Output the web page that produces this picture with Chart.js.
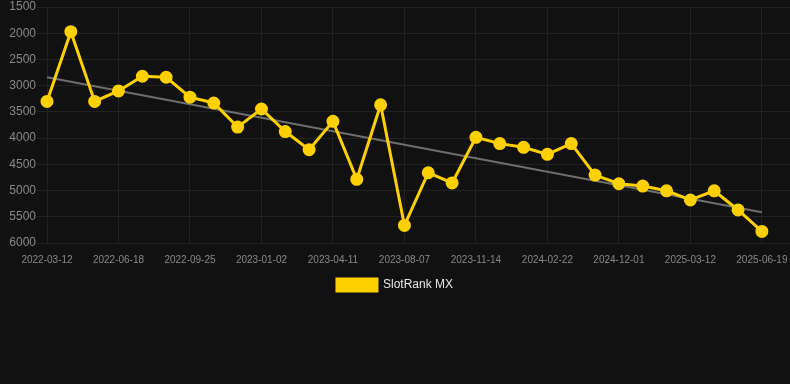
<!DOCTYPE html>
<html>
<head>
<meta charset="utf-8">
<script src="https://cdn.jsdelivr.net/npm/chart.js@4/dist/chart.umd.min.js"></script>
<style>
html,body{margin:0;padding:0;background:#111111;}
#wrap{width:790px;height:301px;position:relative;}
</style>
</head>
<body>
<div id="wrap"><canvas id="c"></canvas></div>
<script>
const categories = [
  "2022-03-12","2022-04-14","2022-05-17","2022-06-18","2022-07-21","2022-08-23",
  "2022-09-25","2022-10-28","2022-11-30","2023-01-02","2023-02-04","2023-03-09",
  "2023-04-11","2023-05-20","2023-06-28","2023-08-07","2023-09-09","2023-10-12",
  "2023-11-14","2023-12-17","2024-01-19","2024-02-22","2024-05-10","2024-08-20",
  "2024-12-01","2025-01-03","2025-02-07","2025-03-12","2025-04-14","2025-05-17",
  "2025-06-19"
];
const rankValues = [
  3300,1970,3300,3100,2820,2840,3220,3330,3790,3445,3875,4220,
  3680,4785,3365,5665,4660,4855,3985,4105,4175,4310,4105,4705,
  4870,4915,5005,5180,5005,5370,5780
];
const trendStart = 2840;
const trendEnd = 5413;
const yTicks = [1500,2000,2500,3000,3500,4000,4500,5000,5500,6000];
const labelEvery = 3;
const seriesName = "SlotRank MX";

const mainPoints = rankValues.map((v, i) => ({ x: i, y: v }));
const trendPoints = [
  { x: 0, y: trendStart },
  { x: categories.length - 1, y: trendEnd }
];
const FONT = 'Arial, "Liberation Sans", sans-serif';

new Chart(document.getElementById('c'), {
  type: 'line',
  data: {
    datasets: [
      {
        label: seriesName,
        data: mainPoints,
        borderColor: '#FFD000',
        backgroundColor: '#FFD000',
        borderWidth: 3,
        pointRadius: 5,
        pointBackgroundColor: '#FFD000',
        pointBorderColor: '#FFD000',
        tension: 0,
        order: 1
      },
      {
        label: 'trend',
        data: trendPoints,
        borderColor: '#6e6e6e',
        borderWidth: 2,
        pointRadius: 0,
        fill: false,
        order: 2
      }
    ]
  },
  options: {
    responsive: true,
    maintainAspectRatio: false,
    animation: false,
    layout: { autoPadding: false, padding: { left: 0, right: 0, top: 0, bottom: 0 } },
    plugins: {
      legend: {
        position: 'bottom',
        labels: {
          color: '#e6e6e6',
          font: { family: FONT, size: 12 },
          boxWidth: 40,
          boxHeight: 12,
          padding: 2,
          filter: (item) => item.text !== 'trend'
        }
      },
      tooltip: { enabled: false }
    },
    scales: {
      x: {
        type: 'linear',
        min: -0.42,
        max: 31.18,
        grid: { color: '#222222', drawTicks: false },
        border: { display: false },
        afterBuildTicks: (axis) => {
          axis.ticks = categories.map((c, i) => i).filter(i => i % labelEvery === 0).map(i => ({ value: i }));
        },
        afterFit: (axis) => { axis.paddingRight = 0; axis.paddingLeft = 0; },
        ticks: {
          color: '#888888',
          font: { family: FONT, size: 10 },
          autoSkip: false,
          maxRotation: 0,
          padding: 11,
          callback: function(v) { return categories[v]; }
        }
      },
      y: {
        reverse: true,
        min: yTicks[0],
        max: yTicks[yTicks.length - 1],
        grid: { color: '#222222', drawTicks: false },
        border: { display: false },
        afterBuildTicks: (axis) => { axis.ticks = yTicks.map(v => ({ value: v })); },
        afterFit: (axis) => { axis.width = 37; },
        ticks: {
          color: '#888888',
          font: { family: FONT, size: 12, lineHeight: 1 },
          padding: 1,
          callback: (v) => String(v)
        }
      }
    }
  }
});
</script>
</body>
</html>
